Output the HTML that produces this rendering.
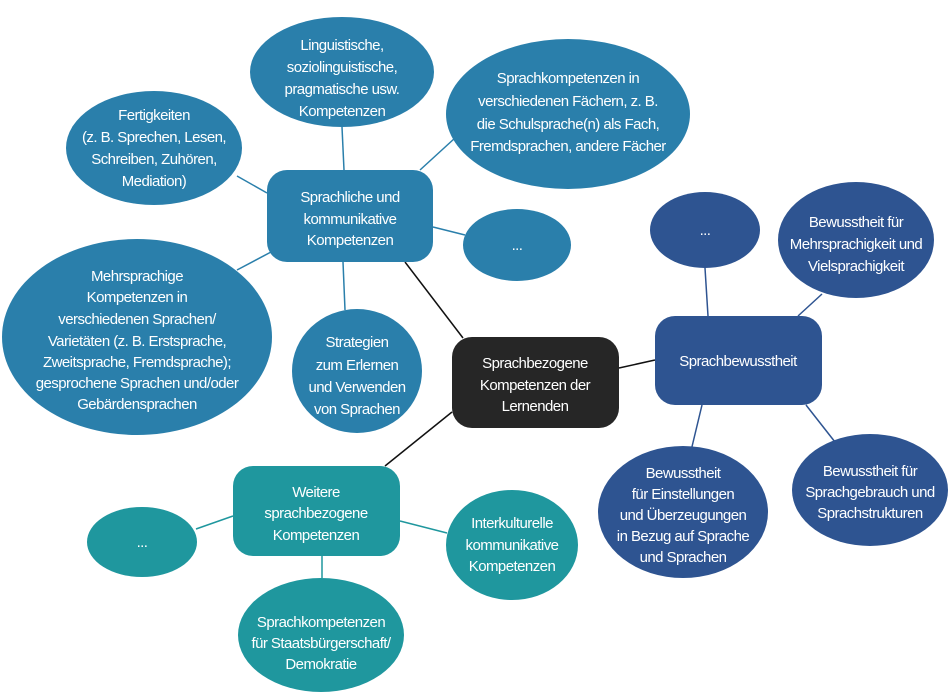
<!DOCTYPE html>
<html><head><meta charset="utf-8"><style>
html,body{margin:0;padding:0;background:#fff}
svg{display:block}
text{font-family:"Liberation Sans",sans-serif;font-size:15px;fill:#fff;text-anchor:middle;letter-spacing:-0.55px}
</style></head><body>
<svg width="951" height="695" viewBox="0 0 951 695" xmlns="http://www.w3.org/2000/svg">
<g stroke-width="1.5">
<line x1="405" y1="262" x2="463" y2="338" stroke="#111"/>
<line x1="619" y1="368" x2="655" y2="360" stroke="#111"/>
<line x1="452" y1="412" x2="385" y2="466" stroke="#111"/>
<g stroke="#2a7fab">
<line x1="342" y1="127" x2="344" y2="170"/>
<line x1="420" y1="170" x2="455" y2="138"/>
<line x1="237" y1="176" x2="267" y2="193"/>
<line x1="433" y1="227" x2="465" y2="235"/>
<line x1="237" y1="270" x2="271" y2="252"/>
<line x1="343" y1="262" x2="345" y2="310"/>
</g>
<g stroke="#2e5491">
<line x1="705" y1="268" x2="708" y2="316"/>
<line x1="798" y1="316" x2="822" y2="294"/>
<line x1="702" y1="405" x2="690" y2="455"/>
<line x1="806" y1="405" x2="835" y2="442"/>
</g>
<g stroke="#1f979e">
<line x1="196" y1="529" x2="233" y2="516"/>
<line x1="400" y1="521" x2="447" y2="533"/>
<line x1="322" y1="556" x2="322" y2="578"/>
</g>
</g>
<g fill="#2a7fab">
<rect x="267" y="170" width="166" height="92" rx="20"/>
<ellipse cx="342" cy="72" rx="92" ry="55"/>
<ellipse cx="568" cy="114" rx="122" ry="75"/>
<ellipse cx="154" cy="148" rx="88" ry="57"/>
<ellipse cx="517" cy="245" rx="54" ry="36"/>
<ellipse cx="137" cy="337" rx="135" ry="98"/>
<ellipse cx="357" cy="371" rx="65" ry="62"/>
</g>
<rect x="452" y="337" width="167" height="91" rx="20" fill="#262626"/>
<g fill="#2e5491">
<rect x="655" y="316" width="167" height="89" rx="20"/>
<ellipse cx="705" cy="230" rx="55" ry="38"/>
<ellipse cx="856" cy="240" rx="78" ry="58"/>
<ellipse cx="683" cy="512" rx="85" ry="66"/>
<ellipse cx="870" cy="490" rx="78" ry="56"/>
</g>
<g fill="#1f979e">
<rect x="233" y="466" width="167" height="90" rx="20"/>
<ellipse cx="142" cy="542" rx="55" ry="35"/>
<ellipse cx="512" cy="545" rx="66" ry="55"/>
<ellipse cx="321" cy="635" rx="83" ry="57"/>
</g>

<text x="350" y="202">Sprachliche und</text>
<text x="350" y="224">kommunikative</text>
<text x="350" y="245">Kompetenzen</text>

<text x="342" y="50">Linguistische,</text>
<text x="342" y="72">soziolinguistische,</text>
<text x="342" y="94">pragmatische usw.</text>
<text x="342" y="116">Kompetenzen</text>

<text x="568" y="83">Sprachkompetenzen in</text>
<text x="568" y="106">verschiedenen Fächern, z. B.</text>
<text x="568" y="129">die Schulsprache(n) als Fach,</text>
<text x="568" y="151">Fremdsprachen, andere Fächer</text>

<text x="154" y="120">Fertigkeiten</text>
<text x="154" y="142">(z. B. Sprechen, Lesen,</text>
<text x="154" y="164">Schreiben, Zuhören,</text>
<text x="154" y="186">Mediation)</text>

<text x="517" y="250">...</text>

<text x="137" y="281">Mehrsprachige</text>
<text x="137" y="302">Kompetenzen in</text>
<text x="137" y="324">verschiedenen Sprachen/</text>
<text x="137" y="346">Varietäten (z. B. Erstsprache,</text>
<text x="137" y="367">Zweitsprache, Fremdsprache);</text>
<text x="137" y="388">gesprochene Sprachen und/oder</text>
<text x="137" y="409">Gebärdensprachen</text>

<text x="357" y="347">Strategien</text>
<text x="357" y="370">zum Erlernen</text>
<text x="357" y="392">und Verwenden</text>
<text x="357" y="414">von Sprachen</text>

<text x="535" y="368">Sprachbezogene</text>
<text x="535" y="390">Kompetenzen der</text>
<text x="535" y="411">Lernenden</text>

<text x="738" y="366">Sprachbewusstheit</text>
<text x="705" y="235">...</text>
<text x="856" y="227">Bewusstheit für</text>
<text x="856" y="249">Mehrsprachigkeit und</text>
<text x="856" y="271">Vielsprachigkeit</text>

<text x="683" y="478">Bewusstheit</text>
<text x="683" y="499">für Einstellungen</text>
<text x="683" y="520">und Überzeugungen</text>
<text x="683" y="541">in Bezug auf Sprache</text>
<text x="683" y="562">und Sprachen</text>

<text x="870" y="476">Bewusstheit für</text>
<text x="870" y="497">Sprachgebrauch und</text>
<text x="870" y="518">Sprachstrukturen</text>

<text x="316" y="497">Weitere</text>
<text x="316" y="518">sprachbezogene</text>
<text x="316" y="540">Kompetenzen</text>

<text x="142" y="547">...</text>

<text x="512" y="528">Interkulturelle</text>
<text x="512" y="550">kommunikative</text>
<text x="512" y="571">Kompetenzen</text>

<text x="321" y="627">Sprachkompetenzen</text>
<text x="321" y="648">für Staatsbürgerschaft/</text>
<text x="321" y="669">Demokratie</text>
</svg>
</body></html>
